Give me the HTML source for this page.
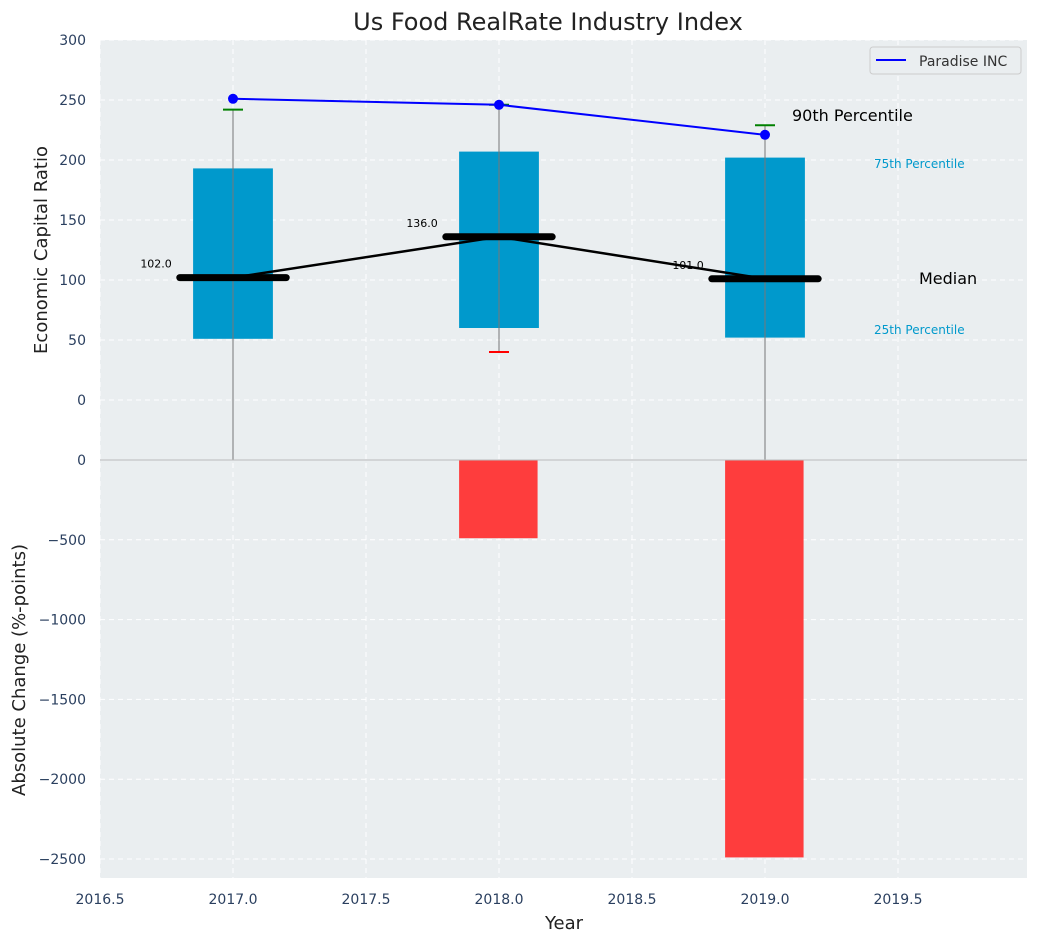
<!DOCTYPE html>
<html><head><meta charset="utf-8"><style>
body{margin:0;background:#fff;font-family:"Liberation Sans","DejaVu Sans",sans-serif}
svg text{font-family:"DejaVu Sans","Liberation Sans",sans-serif}
</style></head><body>
<svg id="chart" width="1039" height="942" xmlns="http://www.w3.org/2000/svg">
<defs><clipPath id="ctop"><rect x="100" y="40" width="927" height="420"/></clipPath>
<clipPath id="cbot"><rect x="100" y="460" width="927" height="418"/></clipPath></defs>
<rect x="100" y="40" width="927" height="838" fill="#eaeef0"/>
<g id="grid"></g><g id="marks"></g><g id="axes"></g>
<text x="548" y="30" font-size="24" text-anchor="middle" fill="#222">Us Food RealRate Industry Index</text>
<text x="564" y="929" font-size="18" text-anchor="middle" fill="#222">Year</text>
<text transform="translate(47,250) rotate(-90)" font-size="18" text-anchor="middle" fill="#222">Economic Capital Ratio</text>
<text transform="translate(25,670) rotate(-90)" font-size="18" text-anchor="middle" fill="#222">Absolute Change (%-points)</text>
<g>
<rect x="870" y="47" width="151" height="27" rx="3" fill="#eaeef0" stroke="#ccc"/>
<line x1="876" y1="60" x2="906" y2="60" stroke="#0000ff" stroke-width="2"/>
<text x="919" y="66" font-size="14" fill="#333">Paradise INC</text></g>
<text x="792" y="121" font-size="16" fill="#000">90th Percentile</text>
<text x="874" y="168" font-size="12" fill="#0099cc">75th Percentile</text>
<text x="919" y="284" font-size="16" fill="#000">Median</text>
<text x="874" y="334" font-size="12" fill="#0099cc">25th Percentile</text>
</svg>
<script>
const years=[2017,2018,2019];
const q25=[51,60,52];
const q75=[193,207,202];
const medians=[102,136,101];
const p90=[242,246,229];
const p10=[-60,40,-60];
const company=[251,246,221];
const changes=[0,-490,-2490];
const xTicks=[2016.5,2017,2017.5,2018,2018.5,2019,2019.5];
const yTopTicks=[0,50,100,150,200,250,300];
const yBotTicks=[0,-500,-1000,-1500,-2000,-2500];
const NS="http://www.w3.org/2000/svg";
const X=v=>100+(v-2016.5)*266;
const YT=v=>400-v*1.2;
const YB=v=>460-v*0.1596;
function mk(p,tag,a){const e=document.createElementNS(NS,tag);for(const k in a)e.setAttribute(k,a[k]);document.getElementById(p).appendChild(e);return e;}
xTicks.forEach(t=>{
 const l=mk('grid','line',{x1:X(t),x2:X(t),y1:40,y2:878,stroke:'#fff','stroke-dasharray':'5,4'});
 
 
 const tx=mk('axes','text',{x:X(t),y:904,'font-size':14,'text-anchor':'middle',fill:'#2a3f5f'});tx.textContent=t.toFixed(1);
 
 
});
yTopTicks.forEach(t=>{
 const l=mk('grid','line',{x1:100,x2:1027,y1:YT(t),y2:YT(t),stroke:'#fff','stroke-dasharray':'5,4'});
 
 
 const tx=mk('axes','text',{x:86,y:YT(t)+5,'font-size':14,'text-anchor':'end',fill:'#2a3f5f'});tx.textContent=t;
 
 
});
yBotTicks.forEach(t=>{
 const l=mk('grid','line',{x1:100,x2:1027,y1:YB(t),y2:YB(t),stroke:'#fff','stroke-dasharray':'5,4'});
 
 
 const tx=mk('axes','text',{x:86,y:YB(t)+5,'font-size':14,'text-anchor':'end',fill:'#2a3f5f'});tx.textContent=t<0?'\u2212'+(-t):t;
 
 
});
const sep=mk('axes','line',{x1:100,x2:1027,y1:460,y2:460,stroke:'#bbb','stroke-width':1});


const gt=mk('marks','g',{'clip-path':'url(#ctop)'});gt.id='top';
const gb=mk('marks','g',{'clip-path':'url(#cbot)'});gb.id='bot';
years.forEach((y,i)=>{
 const r=mk('top','rect',{x:X(y-0.15),width:0.3*266,y:YT(q75[i]),height:YT(q25[i])-YT(q75[i]),fill:'#0099cc'});
 
 
 const w=mk('top','line',{x1:X(y),x2:X(y),y1:YT(p90[i]),y2:YT(p10[i]),stroke:'#777','stroke-width':1});
 
 
 const c1=mk('top','line',{x1:X(y)-10,x2:X(y)+10,y1:YT(p90[i]),y2:YT(p90[i]),stroke:'green','stroke-width':2});
 
 
 const c2=mk('top','line',{x1:X(y)-10,x2:X(y)+10,y1:YT(p10[i]),y2:YT(p10[i]),stroke:'red','stroke-width':2});
 
 
 const b=mk('bot','rect',{x:X(y-0.15),width:0.295*266,y:YB(Math.max(0,changes[i])),height:Math.abs(YB(changes[i])-YB(0)),fill:'#ff3333','fill-opacity':0.95});
 
 
});
const ml=mk('top','polyline',{points:years.map((y,i)=>X(y)+','+YT(medians[i])).join(' '),fill:'none',stroke:'#000','stroke-width':2.5});


years.forEach((y,i)=>{
 const m=mk('top','line',{x1:X(y-0.2),x2:X(y+0.2),y1:YT(medians[i]),y2:YT(medians[i]),stroke:'#000','stroke-width':7,'stroke-linecap':'round'});
 
 
 const t=mk('top','text',{x:X(y-0.23),y:YT(medians[i])-10,'font-size':11,'text-anchor':'end',fill:'#000'});t.textContent=medians[i].toFixed(1);
 
 
});
const cl=mk('top','polyline',{points:years.map((y,i)=>X(y)+','+YT(company[i])).join(' '),fill:'none',stroke:'#0000ff','stroke-width':2});


years.forEach((y,i)=>{
 const d=mk('top','circle',{cx:X(y),cy:YT(company[i]),r:5,fill:'#0000ff'});
 
 
});
</script>
</body></html>
